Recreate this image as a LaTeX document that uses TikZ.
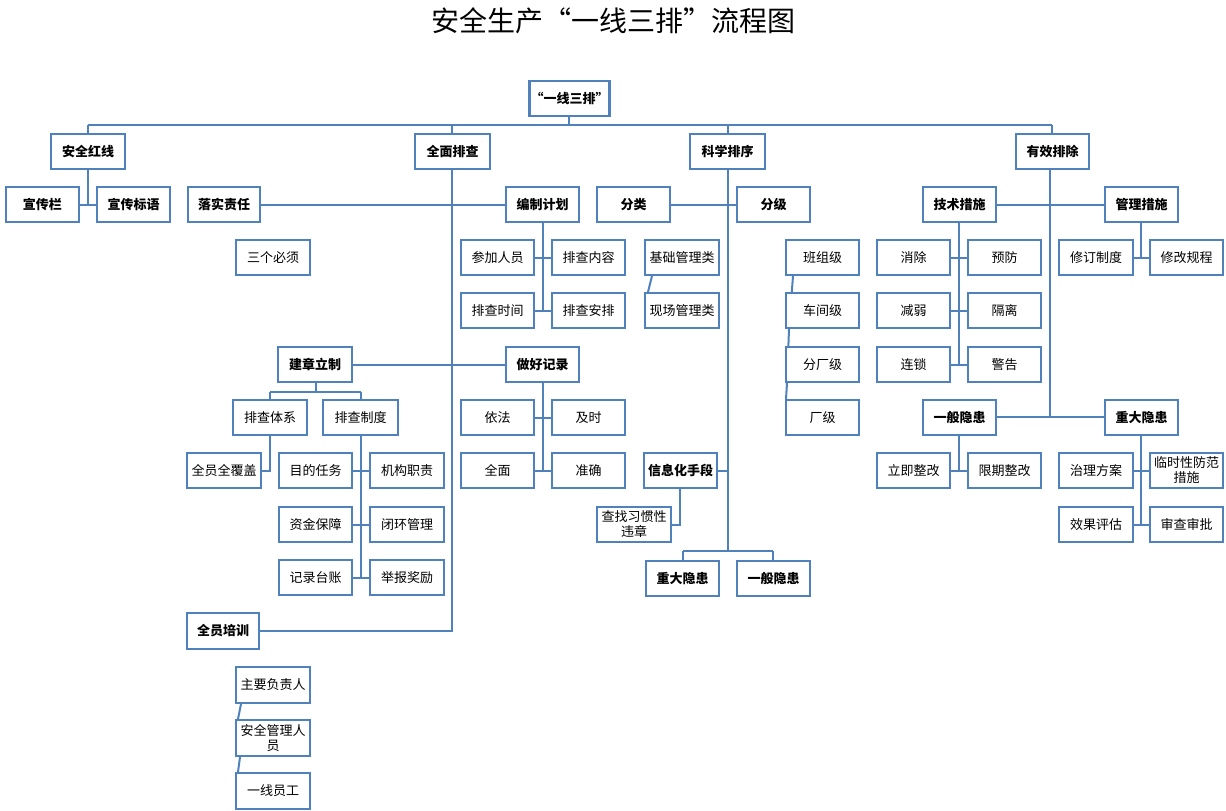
\documentclass[tikz,border=0pt]{standalone}
\usepackage{fontspec}
\newfontfamily\cjk{Noto Sans CJK SC}
\definecolor{ln}{HTML}{4F81BD}
\tikzset{
 bx/.style={draw=ln,line width=2.4pt,inner sep=1pt,align=center,font=\cjk\fontsize{13}{15}\selectfont,fill=white},
 bb/.style={bx,font=\cjk\bfseries\fontsize{13}{15}\selectfont},
 cn/.style={draw=ln,line width=2pt}
}
\newcommand\bx[7]{\node[#6,minimum width={(#4-#2)*1pt-2.4pt},minimum height={(#5-#3)*1pt-2.4pt}] (#1) at ({(#2+#4)/2},{(#3+#5)/2}) {#7};}
\begin{document}
\begin{tikzpicture}[x=1pt,y=-1pt]
\useasboundingbox (0,0) rectangle (1226,811);
\node[font=\cjk\fontsize{28}{30}\selectfont] (title) at (613,21) {安全生产“一线三排”流程图};
% connectors first
\coordinate (busl) at (88,125);
\coordinate (busr) at (1052,125);
\draw[cn] (busl) -- (busr);
\draw[cn] (569,117) -- (569,125);
\draw[cn] (88,125)--(88,133) (452,125)--(452,133) (728,125)--(728,133) (1052,125)--(1052,133);
\draw[cn] (88,170)--(88,205) (80,205)--(96,205);
\draw[cn] (452,170)--(452,631)--(260,631);
\draw[cn] (261,205)--(505,205);
\draw[cn] (543,223)--(543,311) (535,258)--(551,258) (535,311)--(551,311);
\draw[cn] (353,365)--(505,365);
\draw[cn] (316,383)--(316,392) (270,392)--(361,392) (270,392)--(270,399) (361,392)--(361,399);
\draw[cn] (270,436)--(270,471)--(262,471);
\draw[cn] (361,436)--(361,578) (353,471)--(369,471) (353,525)--(369,525) (353,578)--(369,578);
\draw[cn] (543,383)--(543,471) (535,418)--(551,418) (535,471)--(551,471);
\draw[cn] (241,704)--(238,719) (240,757)--(238,772);
\draw[cn] (728,170)--(728,551) (683,551)--(773,551) (683,551)--(683,560) (773,551)--(773,560);
\draw[cn] (671,205)--(736,205);
\draw[cn] (652,276)--(648,292);
\draw[cn] (793,276)--(789,329) (789,329)--(787,383) (787,383)--(786,399);
\draw[cn] (718,471)--(728,471);
\draw[cn] (680,489)--(680,525)--(672,525);
\draw[cn] (997,205)--(1104,205) (1050,170)--(1050,417) (997,417)--(1104,417);
\draw[cn] (959,223)--(959,365) (951,258)--(967,258) (951,311)--(967,311) (951,365)--(967,365);
\draw[cn] (1141,223)--(1141,258) (1134,258)--(1149,258);
\draw[cn] (959,436)--(959,471) (951,471)--(967,471);
\draw[cn] (1141,436)--(1141,525) (1134,471)--(1149,471) (1134,525)--(1149,525);
% boxes
\bx{root}{532}{80}{607}{117}{bb}{“一线三排”}
\bx{aqhx}{50}{133}{126}{170}{bb}{安全红线}
\bx{qmpc}{414}{133}{491}{170}{bb}{全面排查}
\bx{kxpx}{689}{133}{766}{170}{bb}{科学排序}
\bx{yxpc}{1015}{133}{1090}{170}{bb}{有效排除}
\bx{xcl}{5}{186}{80}{223}{bb}{宣传栏}
\bx{xcby}{96}{186}{171}{223}{bb}{宣传标语}
\bx{lszr}{187}{186}{261}{223}{bb}{落实责任}
\bx{bzjh}{505}{186}{580}{223}{bb}{编制计划}
\bx{fl}{596}{186}{671}{223}{bb}{分类}
\bx{fj}{736}{186}{811}{223}{bb}{分级}
\bx{jscs}{922}{186}{997}{223}{bb}{技术措施}
\bx{glcs}{1104}{186}{1179}{223}{bb}{管理措施}
\bx{sgbx}{235}{239}{311}{276}{bx}{三个必须}
\bx{cjry}{460}{239}{535}{276}{bx}{参加人员}
\bx{pcnr}{551}{239}{626}{276}{bx}{排查内容}
\bx{pcsj}{460}{292}{535}{329}{bx}{排查时间}
\bx{pcap}{551}{292}{626}{329}{bx}{排查安排}
\bx{jcgl}{644}{239}{720}{276}{bx}{基础管理类}
\bx{xcgl}{644}{292}{720}{329}{bx}{现场管理类}
\bx{bzj}{785}{239}{860}{276}{bx}{班组级}
\bx{cjj}{785}{292}{860}{329}{bx}{车间级}
\bx{fcj}{785}{346}{860}{383}{bx}{分厂级}
\bx{cj}{785}{399}{860}{436}{bx}{厂级}
\bx{xc}{876}{239}{951}{276}{bx}{消除}
\bx{yf}{967}{239}{1042}{276}{bx}{预防}
\bx{jr}{876}{292}{951}{329}{bx}{减弱}
\bx{gl}{967}{292}{1042}{329}{bx}{隔离}
\bx{ls}{876}{346}{951}{383}{bx}{连锁}
\bx{jg}{967}{346}{1042}{383}{bx}{警告}
\bx{xdzd}{1058}{239}{1134}{276}{bx}{修订制度}
\bx{xggc}{1149}{239}{1224}{276}{bx}{修改规程}
\bx{jzlz}{277}{346}{353}{383}{bb}{建章立制}
\bx{zhjl}{505}{346}{580}{383}{bb}{做好记录}
\bx{pctx}{232}{399}{308}{436}{bx}{排查体系}
\bx{pczd}{322}{399}{399}{436}{bx}{排查制度}
\bx{yiFa}{460}{399}{535}{436}{bx}{依法}
\bx{js}{551}{399}{626}{436}{bx}{及时}
\bx{ybyh}{922}{399}{997}{436}{bb}{一般隐患}
\bx{zdyh}{1104}{399}{1179}{436}{bb}{重大隐患}
\bx{qyqfg}{186}{452}{262}{489}{bx}{全员全覆盖}
\bx{mdrw}{278}{452}{353}{489}{bx}{目的任务}
\bx{jgzz}{369}{452}{445}{489}{bx}{机构职责}
\bx{qm}{460}{452}{535}{489}{bx}{全面}
\bx{zq}{551}{452}{626}{489}{bx}{准确}
\bx{xxh}{643}{452}{718}{489}{bb}{信息化手段}
\bx{ljzg}{876}{452}{951}{489}{bx}{立即整改}
\bx{xqzg}{967}{452}{1042}{489}{bx}{限期整改}
\bx{zlfa}{1058}{452}{1134}{489}{bx}{治理方案}
\bx{lsx}{1149}{452}{1224}{489}{bx}{临时性防范\\措施}
\bx{zjbz}{278}{506}{353}{543}{bx}{资金保障}
\bx{bhgl}{369}{506}{445}{543}{bx}{闭环管理}
\bx{czxg}{596}{506}{672}{543}{bx}{查找习惯性\\违章}
\bx{xgpg}{1058}{506}{1134}{543}{bx}{效果评估}
\bx{scsp}{1149}{506}{1224}{543}{bx}{审查审批}
\bx{jltz}{278}{559}{353}{596}{bx}{记录台账}
\bx{jbjl}{369}{559}{445}{596}{bx}{举报奖励}
\bx{zdyh2}{645}{560}{720}{597}{bb}{重大隐患}
\bx{ybyh2}{736}{560}{811}{597}{bb}{一般隐患}
\bx{qypx}{186}{612}{260}{650}{bb}{全员培训}
\bx{zyfzr}{235}{666}{311}{704}{bx}{主要负责人}
\bx{aqgl}{235}{719}{311}{757}{bx}{安全管理人\\员}
\bx{yxyg}{235}{772}{311}{810}{bx}{一线员工}
\end{tikzpicture}
\end{document}
